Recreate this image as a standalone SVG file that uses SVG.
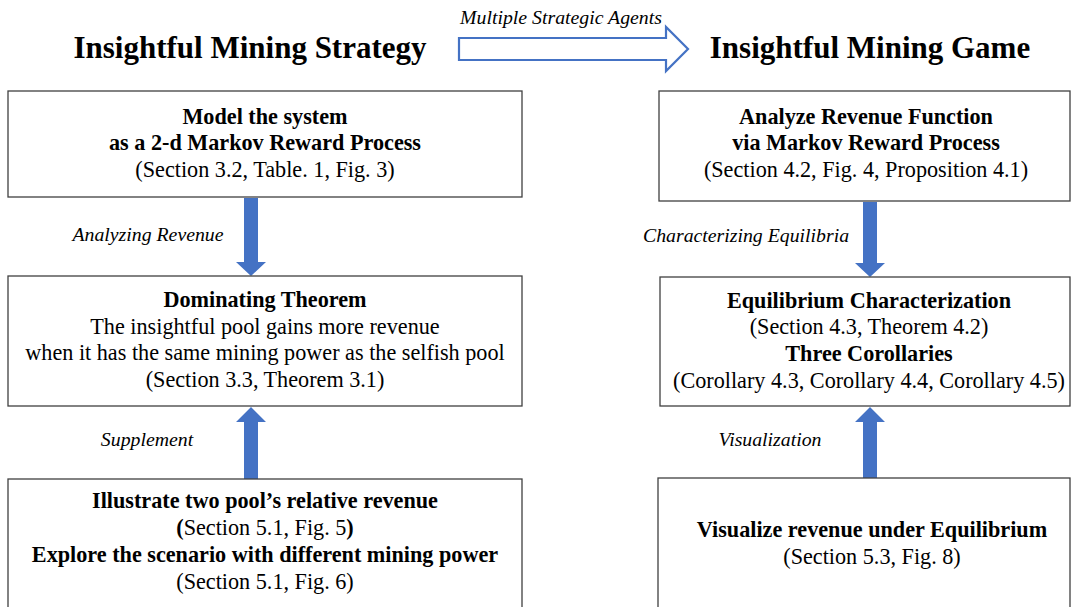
<svg xmlns="http://www.w3.org/2000/svg" width="1073" height="607" viewBox="0 0 1073 607">
<style>
.box{fill:#fff;stroke:#404040;stroke-width:1.3}
.t{font-family:"Liberation Serif","Times New Roman",serif;font-size:22.2px;fill:#000;text-anchor:middle}
.b{font-weight:bold}
.title{font-family:"Liberation Serif","Times New Roman",serif;font-size:31px;font-weight:bold;text-anchor:middle;fill:#000}
.lab{font-family:"Liberation Serif","Times New Roman",serif;font-size:19.8px;font-style:italic;text-anchor:middle;fill:#000}
.arr{fill:#4472C4}
</style>
<rect width="1073" height="607" fill="#fff"/>
<text class="title" x="250" y="58">Insightful Mining Strategy</text>
<text class="title" x="870" y="58">Insightful Mining Game</text>
<text class="lab" x="561" y="24">Multiple Strategic Agents</text>

<g id="connectors">
<polygon points="459,38 666,38 666,27 688,49 666,71 666,60 459,60" fill="#fff" stroke="#4472C4" stroke-width="2.2"/>
<polygon class="arr" points="244,198 258,198 258,262 266,262 251,276 236,262 244,262"/>
<polygon class="arr" points="244,479 258,479 258,422 266,422 251,407 236,422 244,422"/>
<polygon class="arr" points="863,202 877,202 877,263 885,263 870,277 855,263 863,263"/>
<polygon class="arr" points="863,478 877,478 877,422 885,422 870,407 855,422 863,422"/>
<text class="lab" x="148" y="241">Analyzing Revenue</text>
<text class="lab" x="147" y="446">Supplement</text>
<text class="lab" x="746" y="242">Characterizing Equilibria</text>
<text class="lab" x="770" y="446">Visualization</text>
</g>

<g id="n1">
<rect class="box" x="8" y="91" width="514" height="106"/>
<text class="t b" x="265" y="124">Model the system</text>
<text class="t b" x="265" y="150">as a 2-d Markov Reward Process</text>
<text class="t" x="265" y="177">(Section 3.2, Table. 1, Fig. 3)</text>
</g>
<g id="n2">
<rect class="box" x="8" y="276" width="514" height="130"/>
<text class="t b" x="265" y="307">Dominating Theorem</text>
<text class="t" x="265" y="334">The insightful pool gains more revenue</text>
<text class="t" x="265" y="360">when it has the same mining power as the selfish pool</text>
<text class="t" x="265" y="387">(Section 3.3, Theorem 3.1)</text>
</g>
<g id="n3">
<rect class="box" x="8" y="479" width="514" height="140"/>
<text class="t b" x="265" y="508">Illustrate two pool’s relative revenue</text>
<text class="t" x="265" y="535"><tspan class="b">(</tspan>Section 5.1, Fig. 5<tspan class="b">)</tspan></text>
<text class="t b" x="265" y="562">Explore the scenario with different mining power</text>
<text class="t" x="265" y="589">(Section 5.1, Fig. 6)</text>
</g>
<g id="n4">
<rect class="box" x="659" y="91" width="411" height="110"/>
<text class="t b" x="866" y="124">Analyze Revenue Function</text>
<text class="t b" x="866" y="150">via Markov Reward Process</text>
<text class="t" x="866" y="177">(Section 4.2, Fig. 4, Proposition 4.1)</text>
</g>
<g id="n5">
<rect class="box" x="660" y="277" width="410" height="129"/>
<text class="t b" x="869" y="308">Equilibrium Characterization</text>
<text class="t" x="869" y="334">(Section 4.3, Theorem 4.2)</text>
<text class="t b" x="869" y="361">Three Corollaries</text>
<text class="t" x="869" y="388">(Corollary 4.3, Corollary 4.4, Corollary 4.5)</text>
</g>
<g id="n6">
<rect class="box" x="658" y="478" width="412" height="140"/>
<text class="t b" x="872" y="537">Visualize revenue under Equilibrium</text>
<text class="t" x="872" y="564">(Section 5.3, Fig. 8)</text>
</g>
</svg>
